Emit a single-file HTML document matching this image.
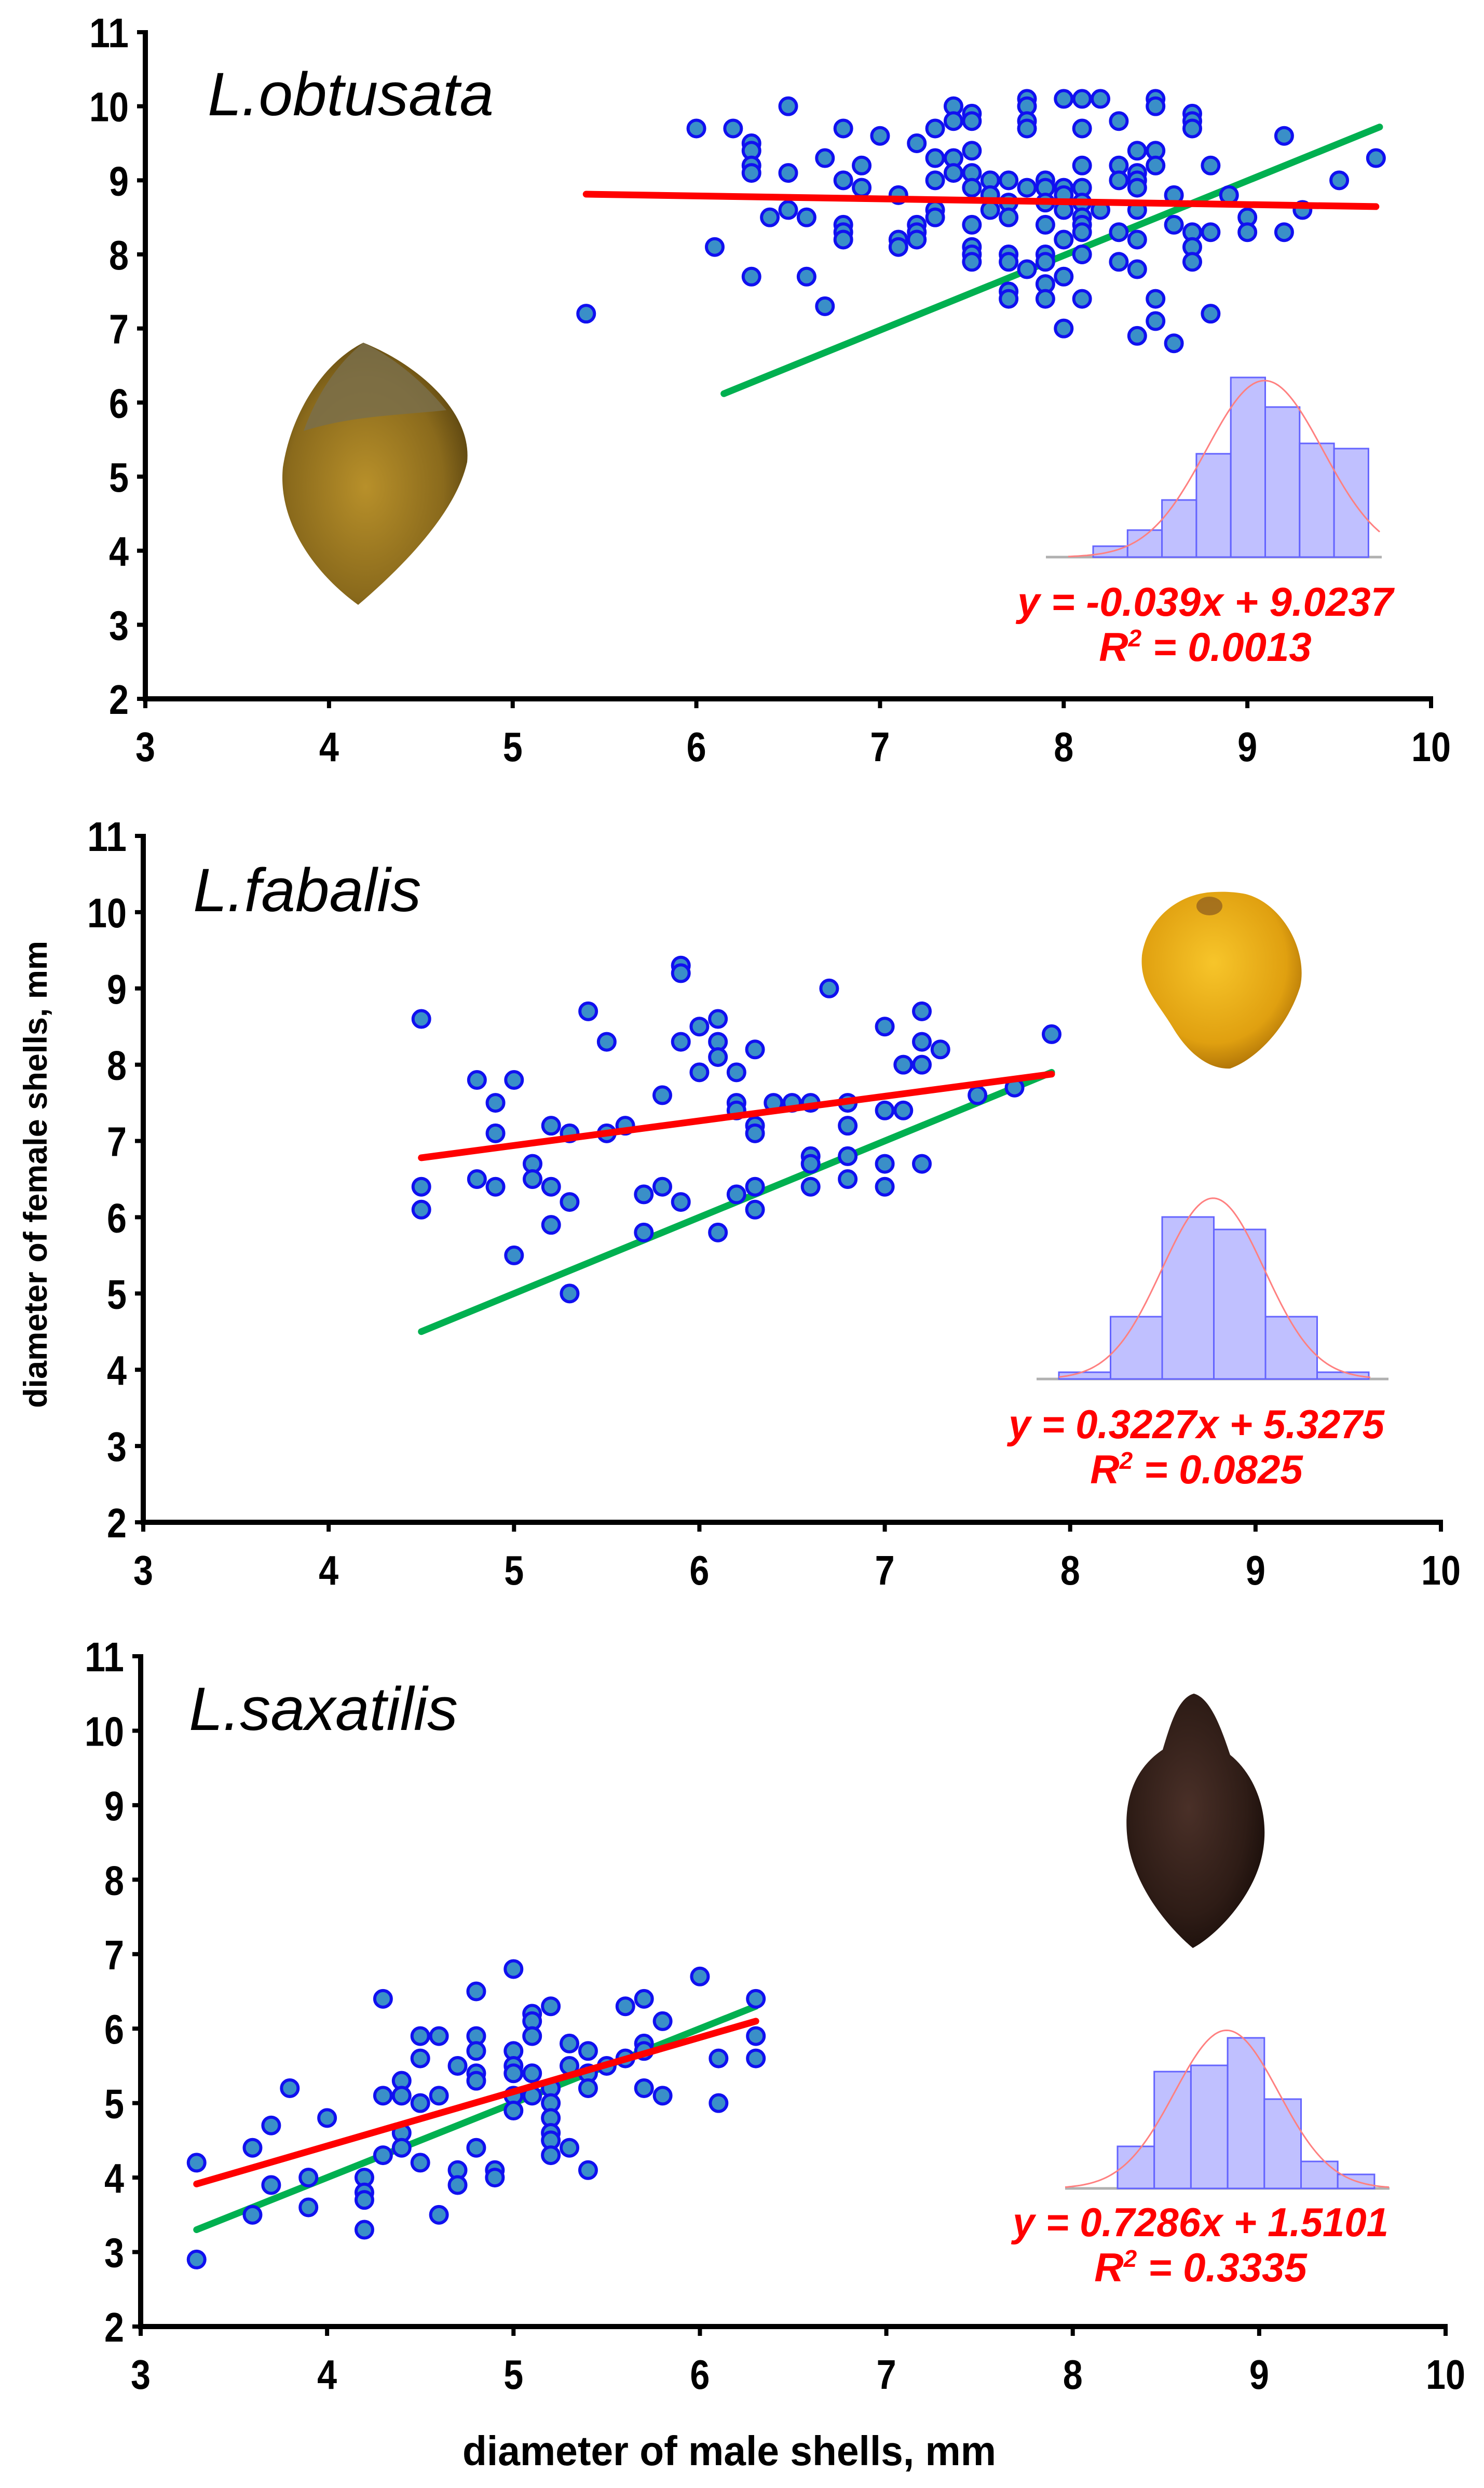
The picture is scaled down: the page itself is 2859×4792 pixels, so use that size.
<!DOCTYPE html>
<html><head><meta charset="utf-8"><title>Shell diameter scatter plots</title>
<style>
html,body{margin:0;padding:0;background:#fff;}
svg{display:block;}
.tick{font-family:"Liberation Sans Narrow","Liberation Sans",sans-serif;font-weight:bold;font-size:80px;fill:#000;}
.title{font-family:"Liberation Sans","DejaVu Sans",sans-serif;font-style:italic;font-size:118px;fill:#000;}
.eq{font-family:"Liberation Sans Narrow","Liberation Sans",sans-serif;font-weight:bold;font-style:italic;font-size:78px;fill:#ff0000;}
.axlabel{font-family:"Liberation Sans Narrow","Liberation Sans",sans-serif;font-weight:bold;font-size:80px;fill:#000;}
.ylabel{font-family:"Liberation Sans","DejaVu Sans",sans-serif;font-weight:bold;font-size:63px;fill:#000;}
</style></head>
<body>
<svg id="fig" width="2859" height="4792" viewBox="0 0 2859 4792" xmlns="http://www.w3.org/2000/svg">
<defs>
<radialGradient id="gObt" cx="0.45" cy="0.55" r="0.6"><stop offset="0" stop-color="#b8902a"/><stop offset="0.7" stop-color="#8a6a1c"/><stop offset="1" stop-color="#5a4410"/></radialGradient>
<radialGradient id="gFab" cx="0.45" cy="0.4" r="0.65"><stop offset="0" stop-color="#f7c52a"/><stop offset="0.7" stop-color="#e0a010"/><stop offset="1" stop-color="#a56a05"/></radialGradient>
<radialGradient id="gSax" cx="0.45" cy="0.45" r="0.6"><stop offset="0" stop-color="#4a3028"/><stop offset="0.7" stop-color="#2e1c16"/><stop offset="1" stop-color="#1a0e0a"/></radialGradient>
</defs>
<!-- shells -->
<g>
<path d="M 700 660 C 620 700 560 800 545 900 C 535 1000 600 1100 690 1165 C 790 1080 880 980 900 890 C 910 790 800 700 700 660 Z" fill="url(#gObt)"/>
<path d="M 700 660 C 650 700 610 760 585 830 C 680 800 770 800 860 790 C 810 730 760 690 700 660 Z" fill="#7a6e4a" opacity="0.85"/>
</g>
<g>
<path d="M 2340 1718 C 2270 1720 2210 1770 2200 1840 C 2195 1900 2230 1930 2260 1980 C 2290 2030 2330 2060 2370 2058 C 2420 2040 2480 1980 2505 1900 C 2520 1830 2470 1740 2400 1722 C 2380 1718 2360 1717 2340 1718 Z" fill="url(#gFab)"/>
<ellipse cx="2330" cy="1745" rx="25" ry="18" fill="#8a5a20" opacity="0.7"/>
</g>
<g>
<path d="M 2300 3262 C 2270 3270 2255 3320 2240 3370 C 2180 3410 2160 3480 2175 3560 C 2195 3650 2260 3720 2298 3752 C 2340 3730 2410 3660 2430 3580 C 2450 3500 2420 3420 2370 3380 C 2350 3320 2330 3270 2300 3262 Z" fill="url(#gSax)"/>
</g>
<g id="charts"></g>
<text class="axlabel" x="1405" y="4748" text-anchor="middle" textLength="1028" lengthAdjust="spacingAndGlyphs">diameter of male shells, mm</text>
<text class="ylabel" transform="translate(90,2262) rotate(-90)" text-anchor="middle">diameter of female shells, mm</text>
</svg>
<script>
// ---------- DATA ----------
const xTicks = [3,4,5,6,7,8,9,10];
const yTicks = [2,3,4,5,6,7,8,9,10,11];

const obtX = [5.4,6.0,6.1,6.2,6.3,6.3,6.3,6.3,6.3,6.4,6.5,6.5,6.5,6.6,6.6,6.7,6.7,6.8,6.8,6.8,6.8,6.8,6.9,6.9,7.0,7.1,7.1,7.1,7.2,7.2,7.2,7.2,7.3,7.3,7.3,7.3,7.3,7.4,7.4,7.4,7.4,7.5,7.5,7.5,7.5,7.5,7.5,7.5,7.5,7.5,7.6,7.6,7.6,7.7,7.7,7.7,7.7,7.7,7.7,7.7,7.8,7.8,7.8,7.8,7.8,7.8,7.9,7.9,7.9,7.9,7.9,7.9,7.9,7.9,8.0,8.0,8.0,8.0,8.0,8.0,8.0,8.1,8.1,8.1,8.1,8.1,8.1,8.1,8.1,8.1,8.1,8.2,8.2,8.3,8.3,8.3,8.3,8.3,8.4,8.4,8.4,8.4,8.4,8.4,8.4,8.4,8.5,8.5,8.5,8.5,8.5,8.5,8.6,8.6,8.6,8.7,8.7,8.7,8.7,8.7,8.7,8.8,8.8,8.8,8.9,9.0,9.0,9.2,9.2,9.3,9.5,9.7];
const obtY = [7.2,9.7,8.1,9.7,9.5,9.4,9.2,9.1,7.7,8.5,10.0,9.1,8.6,8.5,7.7,9.3,7.3,9.7,9.0,8.4,8.3,8.2,9.2,8.9,9.6,8.8,8.2,8.1,9.5,8.4,8.3,8.2,9.7,9.3,9.0,8.6,8.5,10.0,9.8,9.3,9.1,9.9,9.8,9.4,9.1,8.9,8.4,8.1,8.0,7.9,9.0,8.8,8.6,9.0,8.7,8.5,8.0,7.9,7.5,7.4,10.1,10.0,9.8,9.7,8.9,7.8,9.0,8.9,8.7,8.4,8.0,7.9,7.6,7.4,10.1,8.9,8.8,8.6,8.2,7.7,7.0,10.1,9.7,9.2,8.9,8.7,8.5,8.4,8.3,8.0,7.4,10.1,8.6,9.8,9.2,9.0,8.3,7.9,9.4,9.1,9.0,8.9,8.6,8.2,7.8,6.9,10.1,10.0,9.4,9.2,7.4,7.1,8.8,8.4,6.8,9.9,9.8,9.7,8.3,8.1,7.9,9.2,8.3,7.2,8.8,8.5,8.3,9.6,8.3,8.6,9.0,9.3];
const obtRed = [[5.4,-0.039*5.4+9.0237],[9.7,-0.039*9.7+9.0237]];
const obtGreen = [[6.15,6.12],[9.72,9.72]];
const obtHist = [21,52,110,199,346,289,219,209];

const fabX = [4.5,4.5,4.5,4.8,4.8,4.9,4.9,4.9,5.0,5.0,5.1,5.1,5.2,5.2,5.2,5.3,5.3,5.3,5.4,5.5,5.5,5.6,5.7,5.7,5.8,5.8,5.9,5.9,5.9,5.9,6.0,6.0,6.1,6.1,6.1,6.1,6.2,6.2,6.2,6.2,6.3,6.3,6.3,6.3,6.3,6.4,6.5,6.6,6.6,6.6,6.6,6.7,6.8,6.8,6.8,6.8,7.0,7.0,7.0,7.0,7.1,7.1,7.2,7.2,7.2,7.2,7.3,7.5,7.7,7.9];
const fabY = [8.6,6.4,6.1,7.8,6.5,7.5,7.1,6.4,7.8,5.5,6.7,6.5,7.2,6.4,5.9,7.1,6.2,5.0,8.7,8.3,7.1,7.2,6.3,5.8,7.6,6.4,9.3,9.2,8.3,6.2,8.5,7.9,8.6,8.3,8.1,5.8,7.9,7.5,7.4,6.3,8.2,7.2,7.1,6.4,6.1,7.5,7.5,7.5,6.8,6.7,6.4,9.0,7.5,7.2,6.8,6.5,8.5,7.4,6.7,6.4,8.0,7.4,8.7,8.3,8.0,6.7,8.2,7.6,7.7,8.4];
const fabRed = [[4.5,0.3227*4.5+5.3275],[7.9,0.3227*7.9+5.3275]];
const fabGreen = [[4.5,4.5],[7.9,7.9]];
const fabHist = [13,120,312,288,120,13];

const saxX = [3.3,3.3,3.6,3.6,3.7,3.7,3.8,3.9,3.9,4.0,4.2,4.2,4.2,4.2,4.3,4.3,4.3,4.4,4.4,4.4,4.4,4.5,4.5,4.5,4.5,4.6,4.6,4.6,4.7,4.7,4.7,4.8,4.8,4.8,4.8,4.8,4.8,4.9,4.9,5.0,5.0,5.0,5.0,5.0,5.0,5.1,5.1,5.1,5.1,5.1,5.2,5.2,5.2,5.2,5.2,5.2,5.2,5.3,5.3,5.3,5.4,5.4,5.4,5.4,5.5,5.6,5.6,5.7,5.7,5.7,5.7,5.8,5.8,6.0,6.1,6.1,6.3,6.3,6.3];
const saxY = [4.2,2.9,4.4,3.5,4.7,3.9,5.2,4.0,3.6,4.8,4.0,3.8,3.7,3.3,6.4,5.1,4.3,5.3,5.1,4.6,4.4,5.9,5.6,5.0,4.2,5.9,5.1,3.5,5.5,4.1,3.9,6.5,5.9,5.7,5.4,5.3,4.4,4.1,4.0,6.8,5.7,5.5,5.4,5.1,4.9,6.2,6.1,5.9,5.4,5.1,6.3,5.2,5.0,4.8,4.6,4.5,4.3,5.8,5.5,4.4,5.7,5.4,5.2,4.1,5.5,6.3,5.6,6.4,5.8,5.7,5.2,6.1,5.1,6.7,5.6,5.0,6.4,5.9,5.6];
const saxRed = [[3.3,0.7286*3.3+1.5101],[6.3,0.7286*6.3+1.5101]];
const saxGreen = [[3.3,3.3],[6.3,6.3]];
const saxHist = [81,225,237,290,172,52,27];

// ---------- DRAWING ----------
const NS = "http://www.w3.org/2000/svg";
const root = document.getElementById('charts');
function mk(tag, attrs, parent){
  const e = document.createElementNS(NS, tag);
  for (const k in attrs) e.setAttribute(k, attrs[k]);
  (parent||root).appendChild(e);
  return e;
}

function drawChart(cfg){
  const g = mk('g', {});
  
  
  const sx = v => cfg.x0 + (v - 3) / 7 * (cfg.x1 - cfg.x0);
  const sy = v => cfg.y2 - (v - 2) / 9 * (cfg.y2 - cfg.y11);

  const ya = mk('line', {x1:sx(3), y1:sy(11)-4, x2:sx(3), y2:sy(2)+5, stroke:'#000','stroke-width':10}, g);
  
  
  const xa = mk('line', {x1:sx(3)-5, y1:sy(2), x2:sx(10)+4, y2:sy(2), stroke:'#000','stroke-width':10}, g);
  
  
  yTicks.forEach(t => {
    mk('line', {x1:sx(3)-16, y1:sy(t), x2:sx(3), y2:sy(t), stroke:'#000','stroke-width':8}, g);
    const tx = mk('text', {x:sx(3)-32, y:sy(t)+29, 'text-anchor':'end', class:'tick', textLength:String(t).length*38, lengthAdjust:'spacingAndGlyphs'}, g);
    
    
    tx.textContent = t;
  });
  xTicks.forEach(t => {
    mk('line', {x1:sx(t), y1:sy(2), x2:sx(t), y2:sy(2)+18, stroke:'#000','stroke-width':8}, g);
    const tx = mk('text', {x:sx(t), y:sy(2)+120, 'text-anchor':'middle', class:'tick', textLength:String(t).length*38, lengthAdjust:'spacingAndGlyphs'}, g);
    
    
    tx.textContent = t;
  });

  const ti = mk('text', {x:cfg.titleX, y:cfg.titleY, class:'title'}, g);
  
  
  ti.textContent = cfg.title;

  const gl = mk('line', {x1:sx(cfg.green[0][0]), y1:sy(cfg.green[0][1]), x2:sx(cfg.green[1][0]), y2:sy(cfg.green[1][1]), stroke:'#00b050','stroke-width':13,'stroke-linecap':'round'}, g);
  
  

  for (let i = 0; i < cfg.xs.length; i++){
    const c = mk('circle', {cx:sx(cfg.xs[i]), cy:sy(cfg.ys[i]), r:16, fill:'#3a8fc8', stroke:'#1010f0','stroke-width':6}, g);
    
    
  }

  const rl = mk('line', {x1:sx(cfg.red[0][0]), y1:sy(cfg.red[0][1]), x2:sx(cfg.red[1][0]), y2:sy(cfg.red[1][1]), stroke:'#ff0000','stroke-width':13,'stroke-linecap':'round'}, g);
  
  

  const hg = mk('g', {}, g);
  
  
  mk('line', {x1:cfg.hLineX0, y1:cfg.hBase, x2:cfg.hLineX1, y2:cfg.hBase, stroke:'#b0b0b0','stroke-width':5}, hg);
  let tot = 0, mean = 0, v = 0;
  cfg.hist.forEach((h,i) => {
    const b = mk('rect', {x:cfg.hX + i*cfg.hW, y:cfg.hBase - h, width:cfg.hW, height:h, fill:'#c0c0ff', stroke:'#6464ff','stroke-width':3}, hg);
    
    
    const c = cfg.hX + (i+0.5)*cfg.hW;
    tot += h; mean += h*c;
  });
  mean /= tot;
  cfg.hist.forEach((h,i) => { const c = cfg.hX + (i+0.5)*cfg.hW; v += h*(c-mean)*(c-mean); });
  const sd = Math.sqrt(v/tot);
  const peak = tot*cfg.hW/(sd*Math.sqrt(2*Math.PI));
  let d = '';
  for (let px = cfg.hCurveX0; px <= cfg.hCurveX1; px += 4){
    const yv = cfg.hBase - peak*Math.exp(-0.5*((px-mean)/sd)**2);
    d += (d ? ' L ' : 'M ') + px.toFixed(1) + ' ' + yv.toFixed(1);
  }
  const cv = mk('path', {d:d, fill:'none', stroke:'#ff8080','stroke-width':3}, hg);
  
  

  const e1 = mk('text', {x:cfg.eqX, y:cfg.eqY, 'text-anchor':'middle', class:'eq', textLength:724, lengthAdjust:'spacingAndGlyphs'}, g);
  
  
  e1.textContent = cfg.eq;
  const e2 = mk('text', {x:cfg.eqX, y:cfg.eqY+87, 'text-anchor':'middle', class:'eq'}, g);
  
  
  e2.innerHTML = 'R<tspan dy="-28" font-size="46">2</tspan><tspan dy="28"> = ' + cfg.r2 + '</tspan>';
}

drawChart({name:'chart-obtusata', x0:280, x1:2757, y11:62, y2:1346, xs:obtX, ys:obtY, red:obtRed, green:obtGreen,
  title:'L.obtusata', titleX:400, titleY:222, hist:obtHist, hX:2106, hW:66.3, hBase:1073, hLineX0:2015, hLineX1:2662,
  hCurveX0:2058, hCurveX1:2660, eq:'y = -0.039x + 9.0237', r2:'0.0013', eqX:2322, eqY:1186});
drawChart({name:'chart-fabalis', x0:276, x1:2776, y11:1610, y2:2932, xs:fabX, ys:fabY, red:fabRed, green:fabGreen,
  title:'L.fabalis', titleX:372, titleY:1755, hist:fabHist, hX:2040, hW:99.5, hBase:2656, hLineX0:1997, hLineX1:2675,
  hCurveX0:2040, hCurveX1:2640, eq:'y = 0.3227x + 5.3275', r2:'0.0825', eqX:2305, eqY:2770});
drawChart({name:'chart-saxatilis', x0:271, x1:2785, y11:3190, y2:4481, xs:saxX, ys:saxY, red:saxRed, green:saxGreen,
  title:'L.saxatilis', titleX:364, titleY:3332, hist:saxHist, hX:2153, hW:70.7, hBase:4215, hLineX0:2052, hLineX1:2677,
  hCurveX0:2052, hCurveX1:2677, eq:'y = 0.7286x + 1.5101', r2:'0.3335', eqX:2313, eqY:4307});
</script>
</body></html>
